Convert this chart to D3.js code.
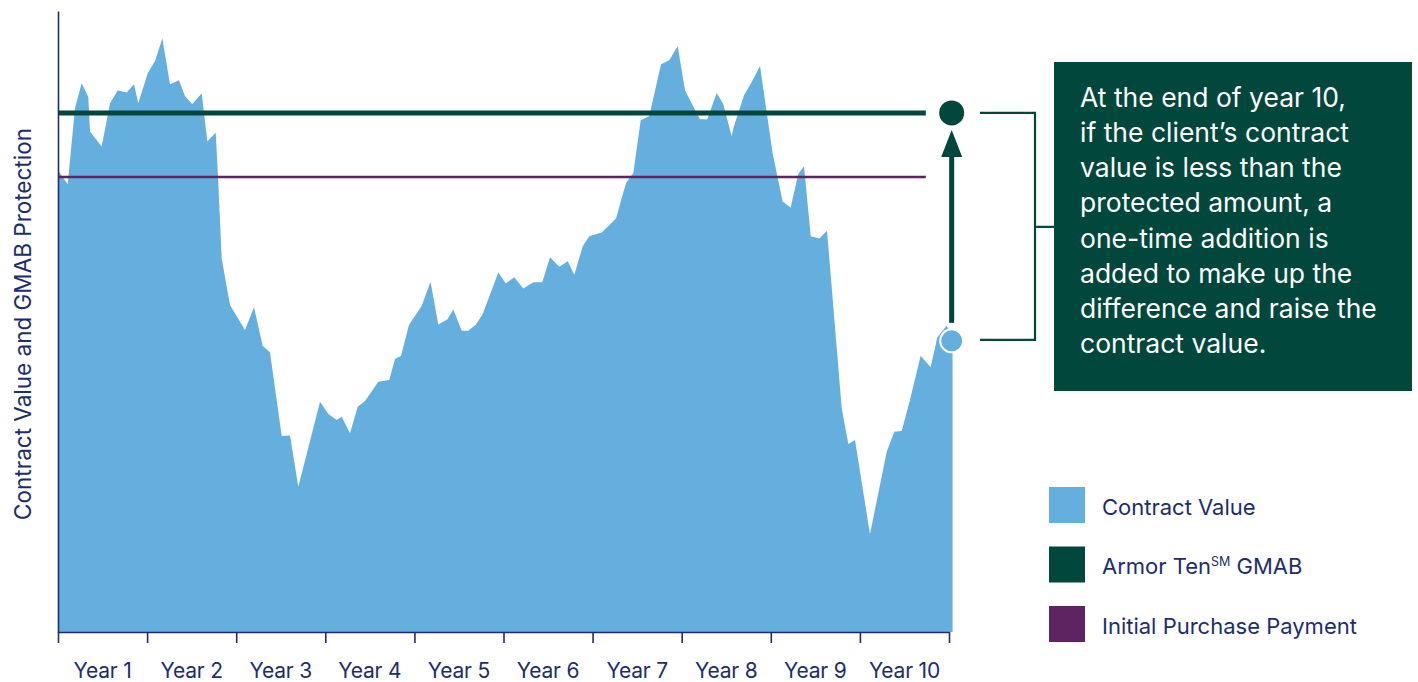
<!DOCTYPE html>
<html><head><meta charset="utf-8">
<script src="https://cdn.jsdelivr.net/npm/d3@7"></script>
<style>
body{margin:0;background:#fff;}
svg{display:block;font-family:Inter,'Noto Sans',sans-serif;}
</style>
</head><body>
<svg id="c" width="1418" height="682"></svg>
<script>
// ---- data ----
const years = [0,0.109,0.191,0.266,0.340,0.359,0.490,0.584,0.670,0.771,0.853,0.901,1.007,1.089,1.171,1.257,1.358,1.425,1.507,1.613,1.676,1.770,1.797,1.837,1.930,2.099,2.200,2.297,2.379,2.511,2.604,2.697,2.941,3.034,3.128,3.184,3.277,3.364,3.446,3.595,3.718,3.782,3.850,3.939,4.082,4.181,4.268,4.369,4.437,4.531,4.605,4.691,4.767,4.942,5.025,5.121,5.222,5.334,5.435,5.522,5.626,5.721,5.795,5.889,5.963,6.102,6.263,6.375,6.457,6.540,6.636,6.768,6.861,6.955,7.037,7.130,7.205,7.287,7.393,7.467,7.561,7.579,7.699,7.786,7.879,8.021,8.133,8.223,8.309,8.373,8.448,8.545,8.631,8.796,8.870,8.945,9.113,9.301,9.386,9.469,9.562,9.682,9.794,9.869,9.974,10.04];
const contractValues = [101.5,98.4,115.2,120.6,117.6,110.0,106.7,116.2,119.0,118.6,120.4,116.2,122.8,125.5,130.5,120.4,121.3,117.8,116.0,118.4,107.8,109.8,99.7,82.1,71.9,66.4,71.4,62.9,61.5,43.1,43.2,31.9,50.6,47.9,46.6,47.3,43.7,49.5,50.8,55.0,55.4,60.0,60.7,67.5,71.7,77.0,67.6,68.7,70.9,66.2,66.2,67.6,69.9,79.1,76.6,78.0,75.5,76.9,76.9,82.4,80.3,81.5,78.5,84.8,87.0,87.8,90.9,98.7,100.9,112.5,113.4,124.8,125.7,128.8,119.1,115.5,112.7,112.7,118.5,116.0,108.9,110.7,118.0,120.9,124.4,105.2,94.6,93.3,100.7,102.4,87.0,86.5,88.2,49.2,41.3,42.2,21.5,39.6,44.0,44.2,51.0,60.7,58.2,64.8,67.3,64.5];
const tickYears = [0,1,2,3,4,5,6,7,8,9,10];
const tickLabels = ["Year 1","Year 2","Year 3","Year 4","Year 5","Year 6","Year 7","Year 8","Year 9","Year 10"];
const gmabValue = 114.1;
const initialPayment = 100;
const lineEndYear = 9.74;
const endYear = 10.03;
const endContractValue = 64.0;
const legendLabels = ["Contract Value","Armor Ten","Initial Purchase Payment"];
const calloutLines = ["At the end of year 10,","if the client\u2019s contract","value is less than the","protected amount, a","one-time addition is","added to make up the","difference and raise the","contract value."];
const yTitle = "Contract Value and GMAB Protection";

// ---- colours ----
const cArea = "#65afdf", cGreen = "#01473b", cPurple = "#5e2361", cNavy = "#1d2d6c";

const svg = d3.select("#c");
const x = d3.scaleLinear().domain([0,10]).range([58,949]);
const y = d3.scaleLinear().domain([0,136.5]).range([632,11]);

const pts = years.map((t,i)=>({t, v:contractValues[i]}));

// area
svg.append("path").datum(pts)
  .attr("d", d3.area().x(d=>x(d.t)).y0(y(0)).y1(d=>y(d.v)))
  .attr("fill", cArea);

// horizontal lines
svg.append("line").attr("x1",x(0)).attr("x2",x(lineEndYear))
  .attr("y1",y(initialPayment)).attr("y2",y(initialPayment))
  .attr("stroke",cPurple).attr("stroke-width",2.5);
svg.append("line").attr("x1",x(0)).attr("x2",x(lineEndYear))
  .attr("y1",y(gmabValue)).attr("y2",y(gmabValue))
  .attr("stroke",cGreen).attr("stroke-width",5);

// axes
const xAxis = svg.append("g").attr("transform",`translate(0,${y(0)})`)
  .call(d3.axisBottom(x).tickValues(tickYears).tickSize(11).tickSizeOuter(0).tickFormat(""));
xAxis.selectAll("path,line").attr("stroke",cNavy).attr("stroke-width",1.6);
const yAxis = svg.append("g").attr("transform",`translate(${x(0)},0)`)
  .call(d3.axisLeft(y).tickValues([]).tickSizeOuter(0));
yAxis.selectAll("path").attr("stroke",cNavy).attr("stroke-width",1.6);

svg.append("g").selectAll("text").data(tickLabels).join("text")
  .attr("x",(d,i)=>x(i+0.5)).attr("y",678)
  .attr("text-anchor","middle").attr("fill",cNavy)
  .attr("font-size",21).attr("letter-spacing",-0.2).text(d=>d);

svg.append("text").attr("transform","translate(31,324) rotate(-90)")
  .attr("text-anchor","middle").attr("fill",cNavy)
  .attr("font-size",22.5).text(yTitle);

// arrow
const ex = x(endYear);
svg.append("rect").attr("x",ex-2.5).attr("width",5)
  .attr("y",y(gmabValue)+40).attr("height",(y(endContractValue)-18)-(y(gmabValue)+40))
  .attr("fill",cGreen);
svg.append("path")
  .attr("d",`M${ex},${y(gmabValue)+17} L${ex+10.5},${y(gmabValue)+44} L${ex-10.5},${y(gmabValue)+44} Z`)
  .attr("fill",cGreen);
svg.append("circle").attr("cx",ex).attr("cy",y(gmabValue)).attr("r",12.5).attr("fill",cGreen);
svg.append("circle").attr("cx",ex).attr("cy",y(endContractValue)).attr("r",11.5)
  .attr("fill",cArea).attr("stroke","#fff").attr("stroke-width",2);

// bracket
const bx0 = 980, bx1 = 1035, boxX = 1054;
const br = svg.append("g").attr("stroke",cGreen).attr("stroke-width",2.2).attr("fill","none");
br.append("path").attr("d",`M${bx0},${y(gmabValue)} H${bx1} V${y(endContractValue)-1} H${bx0}`);
br.append("path").attr("d",`M${bx1},${(y(gmabValue)+y(endContractValue))/2} H${boxX}`);

// callout box
svg.append("rect").attr("x",boxX).attr("y",62).attr("width",358).attr("height",329).attr("fill",cGreen);
svg.append("g").selectAll("text").data(calloutLines).join("text")
  .attr("x",1080).attr("y",(d,i)=>106.7+i*35.2)
  .attr("fill","#fff").attr("font-size",26.5).text(d=>d);

// legend
const legColors = [cArea,cGreen,cPurple];
const lg = svg.append("g");
legendLabels.forEach((l,i)=>{
  const top = 487 + i*59.5;
  lg.append("rect").attr("x",1049).attr("y",top).attr("width",36).attr("height",36).attr("fill",legColors[i]);
  const t = lg.append("text").attr("x",1102).attr("y",top+27.5).attr("fill",cNavy)
    .attr("font-size",22).text(l);
  if(i===1){
    t.append("tspan").attr("font-size",12.5).attr("dy",-8.5).text("SM");
    t.append("tspan").attr("dy",8.5).text(" GMAB");
  }
});
</script>
</body></html>
